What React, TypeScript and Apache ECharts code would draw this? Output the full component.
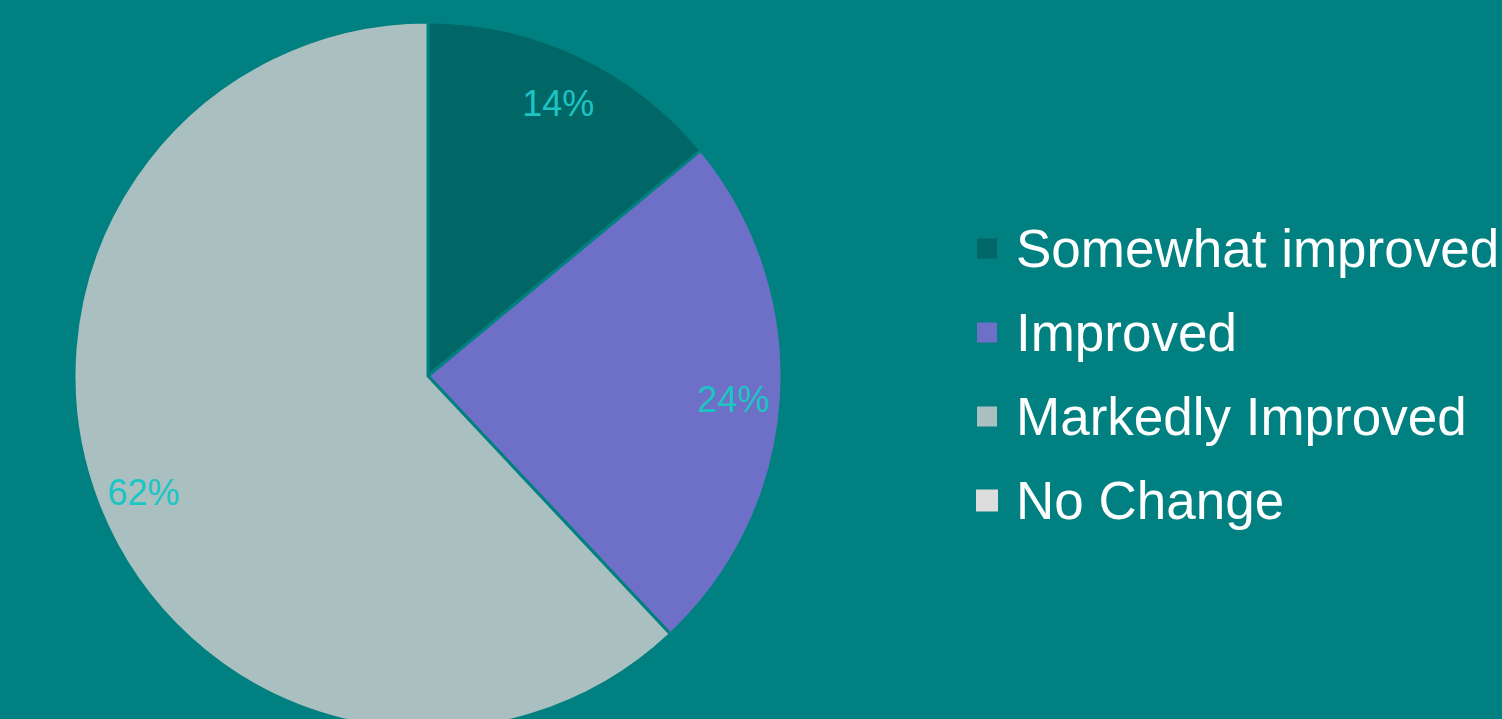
import React, { useEffect, useRef } from "react";
import * as echarts from "echarts";

const categories = ["Somewhat improved", "Improved", "Markedly Improved", "No Change"];
const values = [14, 24, 62, 0];
const colors = ["#006666", "#6E6FC6", "#AABFC0", "#DDDDDD"];

export default function App() {
  const ref = useRef<HTMLDivElement>(null);
  useEffect(() => {
    if (!ref.current) return;
    const chart = echarts.init(ref.current, null, { renderer: "svg" });
    const data = categories.map((name, i) => ({
      name,
      value: values[i],
      itemStyle: { color: colors[i], borderWidth: values[i] === 0 ? 0 : 3 },
    }));
    chart.setOption({
      animation: false,
      backgroundColor: "#008080",
      legend: {
        orient: "vertical",
        left: 975,
        top: 222,
        padding: 0,
        itemWidth: 22,
        itemHeight: 22,
        itemGap: 31,
        icon: "rect",
        data: categories,
        textStyle: {
          color: "#ffffff",
          fontSize: 53,
          lineHeight: 53,
          fontFamily: "Liberation Sans, Arial, sans-serif",
          padding: [0, 0, 0, 13],
        },
        selectedMode: false,
      },
      series: [
        {
          type: "pie",
          center: [428, 376],
          radius: [0, 354],
          startAngle: 90,
          clockwise: true,
          silent: true,
          label: { show: false },
          labelLine: { show: false },
          itemStyle: { borderColor: "#008080", borderWidth: 3 },
          data,
        },
        {
          type: "pie",
          center: [428, 380],
          radius: [256, 350],
          startAngle: 90,
          clockwise: true,
          silent: true,
          itemStyle: { color: "transparent", borderWidth: 0 },
          label: {
            position: "inside",
            formatter: "{c}%",
            color: "#1CC4C4",
            fontSize: 36,
            fontFamily: "Liberation Sans, Arial, sans-serif",
          },
          labelLine: { show: false },
          data: categories.map((name, i) => ({
            name,
            value: values[i],
            itemStyle: { color: "transparent", borderWidth: 0 },
            label: { show: values[i] !== 0 },
          })),
        },
      ],
    });
    return () => chart.dispose();
  }, []);
  return (
    <div
      ref={ref}
      style={{ position: "fixed", left: 0, top: 0, width: 1502, height: 719 }}
    />
  );
}
